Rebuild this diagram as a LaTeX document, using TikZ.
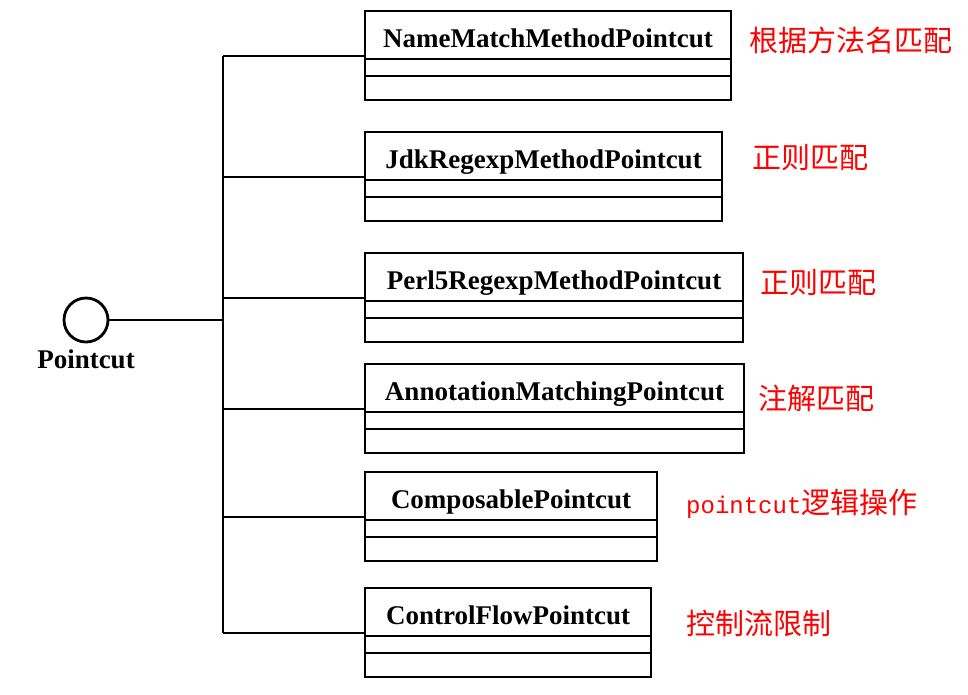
\documentclass[tikz,border=0pt]{standalone}
\usepackage{fontspec}
\setmainfont{Liberation Serif}
\newfontfamily\cjk{Noto Sans CJK SC}
\newfontfamily\monofnt{Liberation Mono}
\usetikzlibrary{calc}
\tikzset{%
    Cname/.style={draw, line width=2.6pt, anchor=north west, inner sep=0pt, outer sep=0pt,
        minimum height=48pt, text height=25pt, text depth=1pt,
        font=\fontsize{27}{27}\selectfont\bfseries},
    Cbox/.style={line width=2.6pt, line join=miter},
    Cline/.style={line width=2pt},
    Cnote/.style={text=red, anchor=base west, inner sep=0pt, font=\fontsize{29}{29}\selectfont\cjk},
    Dinterface/.style={shape=circle, draw, line width=2.8pt, minimum size=44pt, inner sep=0pt},
    Dlabel/.style={anchor=base, inner sep=0pt, font=\fontsize{27}{27}\selectfont\bfseries}
}
\newcommand{\umlclass}[4]{
    % name compartment (#1 node, #2 top, #3 width, #4 class name)
    \node [Cname, minimum width=#3pt] (#1) at (365,#2) {#4};
    
    % empty attribute and operation compartments
    \draw [Cbox] (#1.south west) rectangle ++(#3,41);
    \draw [Cline] ($(#1.south west)+(0,17)$) -- ++(#3,0);
    
    % joint of the connector
    \path ($(#1.south west)+(0,-3)$) coordinate (#1j);
}

\begin{document}
\begin{tikzpicture}[x=1pt,y=-1pt]
    \useasboundingbox (0,0) rectangle (968,694);
    \path (223,0) coordinate (Bx);
    
    % interface
    \node [Dinterface] (Ipc) at (86,320) {};
    \node [Dlabel] (IpcName) at (86,368) {Pointcut};
    
    % implementing classes
    \foreach \cN/\cT/\cW/\cName in
            {Cnm/11/366/NameMatchMethodPointcut,
             Cjdk/132/357/JdkRegexpMethodPointcut,
             Cperl/253/378/Perl5RegexpMethodPointcut,
             Cann/364/379/AnnotationMatchingPointcut,
             Ccomp/472/292/ComposablePointcut,
             Cflow/588/286/ControlFlowPointcut}
        \umlclass{\cN}{\cT}{\cW}{\cName};
    
    % connectors
    \draw [Cline] (Ipc.east) -- (Ipc.east -| Bx);
    \draw [Cline] (Cnmj -| Bx) -- (Cflowj -| Bx);
    \foreach \cN in {Cnm,Cjdk,Cperl,Cann,Ccomp,Cflow}
        \draw [Cline] (\cN j -| Bx) -- (\cN j);
    
    % notes
    \foreach \cN/\cX/\cY/\cText in
            {Nnm/749/51/根据方法名匹配,
             Njdk/752/168/正则匹配,
             Nperl/760/293/正则匹配,
             Nann/758/409/注解匹配,
             Ncomp/686/513/{{\monofnt\fontsize{24}{24}\selectfont pointcut}逻辑操作},
             Nflow/686/634/控制流限制}
        \node [Cnote] (\cN) at (\cX,\cY) {\cText};
    
\end{tikzpicture}
\end{document}
